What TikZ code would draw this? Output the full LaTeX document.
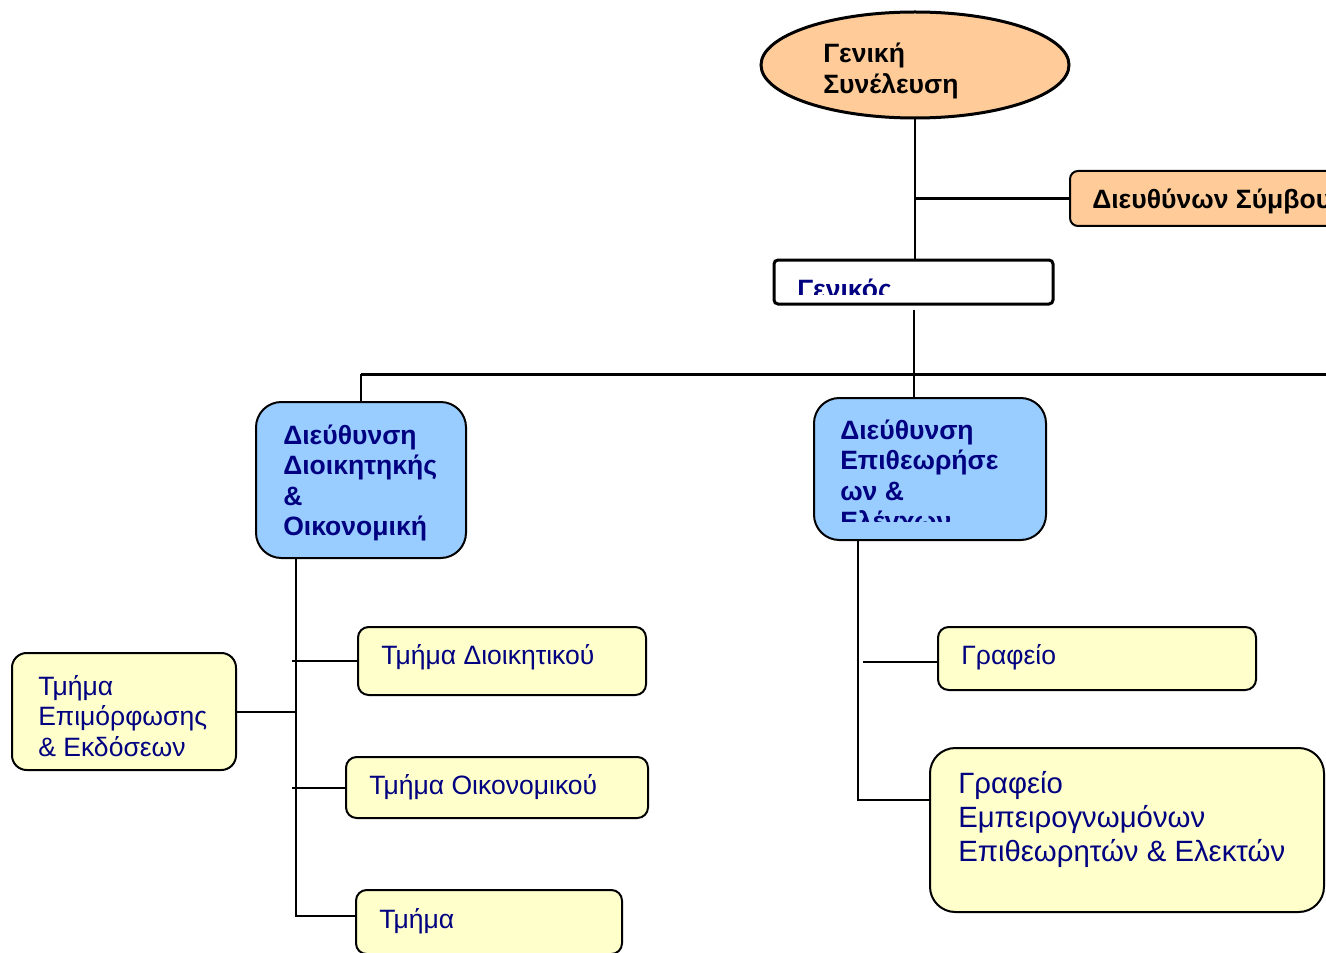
\documentclass[tikz,border=0pt]{standalone}
\usepackage{fontspec}
\setmainfont{Liberation Sans}
\usetikzlibrary{shapes.geometric}
\definecolor{peach}{HTML}{FFCC99}
\definecolor{skyblue}{HTML}{99CCFF}
\definecolor{paleyellow}{HTML}{FFFFCC}
\definecolor{navytext}{HTML}{000080}
\tikzset{
  unitbox/.style={draw, line width=1.5pt, inner sep=0pt},
  headtxt/.style={anchor=west, align=left, inner sep=0pt, font=\bfseries\fontsize{19.9}{22.9}\selectfont},
  bluetxt/.style={headtxt, text=navytext},
  plaintxt/.style={anchor=west, align=left, inner sep=0pt, text=navytext, font=\fontsize{19.9}{22.9}\selectfont},
  bigtxt/.style={plaintxt, font=\fontsize{22}{25.5}\selectfont},
  link/.style={line width=1.5pt},
  heavylink/.style={line width=2.25pt}
}
\begin{document}
\begin{tikzpicture}[x=0.75pt, y=-0.75pt]
	\useasboundingbox (0,0) rectangle (1326,952);
	\clip (0,0) rectangle (1326,952);
	% top level
	\node [unitbox, ellipse, line width=2.25pt, fill=peach, minimum width=308*0.75pt, minimum height=106*0.75pt] (gs) at (915,65) {};
	\node [headtxt] (gs-t) at (823,71) {Γενική\\Συνέλευση};
	\node [unitbox, rounded corners=6pt, fill=peach, minimum width=330*0.75pt, minimum height=55*0.75pt] (ceo) at (1235,198.5) {};
	\node [headtxt] (ceo-t) at (1092,201) {Διευθύνων Σύμβουλος};
	\node [unitbox, rounded corners=3pt, line width=2.25pt, fill=white, minimum width=279*0.75pt, minimum height=44*0.75pt] (gen) at (913.5,282) {};
	\begin{scope}
		\clip (gen.north west) rectangle ([yshift=11*0.75pt]gen.south east);
		\node [bluetxt] (gen-t) at (797,291) {Γενικός};
	\end{scope}
	% directorates
	\node [unitbox, rounded corners=19pt, fill=skyblue, minimum width=210*0.75pt, minimum height=156*0.75pt] (doa) at (361,480) {};
	\node [bluetxt] (doa-t) at (283,483) {Διεύθυνση\\Διοικητηκής\\\&\\Οικονομική};
	\node [unitbox, rounded corners=19pt, fill=skyblue, minimum width=232*0.75pt, minimum height=142*0.75pt] (dei) at (930,469) {};
	\begin{scope}
		\clip (dei.north west) rectangle ([yshift=20*0.75pt]dei.south east);
		\node [bluetxt] (dei-t) at (840,478) {Διεύθυνση\\Επιθεωρήσε\\ων \&\\Ελέγχων};
	\end{scope}
	% departments
	\node [unitbox, rounded corners=8pt, fill=paleyellow, minimum width=288*0.75pt, minimum height=68*0.75pt] (tm1) at (502,661) {};
	\node [plaintxt] (tm1-t) at (381,657) {Τμήμα Διοικητικού};
	\node [unitbox, rounded corners=11pt, fill=paleyellow, minimum width=224*0.75pt, minimum height=117*0.75pt] (epim) at (124,711.5) {};
	\node [plaintxt] (epim-t) at (38,716) {Τμήμα\\Επιμόρφωσης\\\& Εκδόσεων};
	\node [unitbox, rounded corners=8pt, fill=paleyellow, minimum width=302*0.75pt, minimum height=61*0.75pt] (tm2) at (497,787.5) {};
	\node [plaintxt] (tm2-t) at (369,787) {Τμήμα Οικονομικού};
	\node [unitbox, rounded corners=8pt, fill=paleyellow, minimum width=266*0.75pt, minimum height=64*0.75pt] (tm3) at (489,922) {};
	\node [plaintxt] (tm3-t) at (379,921) {Τμήμα};
	\node [unitbox, rounded corners=8pt, fill=paleyellow, minimum width=318*0.75pt, minimum height=63*0.75pt] (graf1) at (1097,658.5) {};
	\node [plaintxt] (graf1-t) at (961,657) {Γραφείο};
	\node [unitbox, rounded corners=19pt, fill=paleyellow, minimum width=394*0.75pt, minimum height=164*0.75pt] (graf2) at (1127,830) {};
	\node [bigtxt] (graf2-t) at (958,819) {Γραφείο\\Εμπειρογνωμόνων\\Επιθεωρητών \& Ελεκτών};
	% lines
	\coordinate (busL) at (361,374);
	\coordinate (busR) at (1326,374);
	\coordinate (lt) at (296,558);
	\coordinate (rt) at (858,540);
	\coordinate (tm3in) at ([yshift=4.5pt]tm3.west);
	\coordinate (graf1in) at ([yshift=-2.5pt]graf1.west);
	\coordinate (graf2in) at ([yshift=22.5pt]graf2.west);
	\draw [link] (gs.south) -- (gs.south |- gen.north);
	\draw [heavylink] (gs.south |- ceo.west) -- (ceo.west);
	\draw [link] ([yshift=-3pt]gen.south) -- (gen.south |- busL);
	\draw [heavylink] (busL) -- (busR);
	\draw [link] (busL) -- (doa.north);
	\draw [link] (gen.south |- busL) -- (gen.south |- dei.north);
	\draw [link] (lt) -- (lt |- tm3in) -- (tm3in);
	\draw [link] ([xshift=-3pt]lt |- tm1.west) -- (tm1.west);
	\draw [link] ([xshift=-3pt]lt |- tm2.west) -- (tm2.west);
	\draw [link] (epim.east) -- (lt |- epim.east);
	\draw [link] (rt) -- (rt |- graf2in) -- (graf2in);
	\draw [link] ([xshift=4pt]rt |- graf1in) -- (graf1in);
\end{tikzpicture}
\end{document}
